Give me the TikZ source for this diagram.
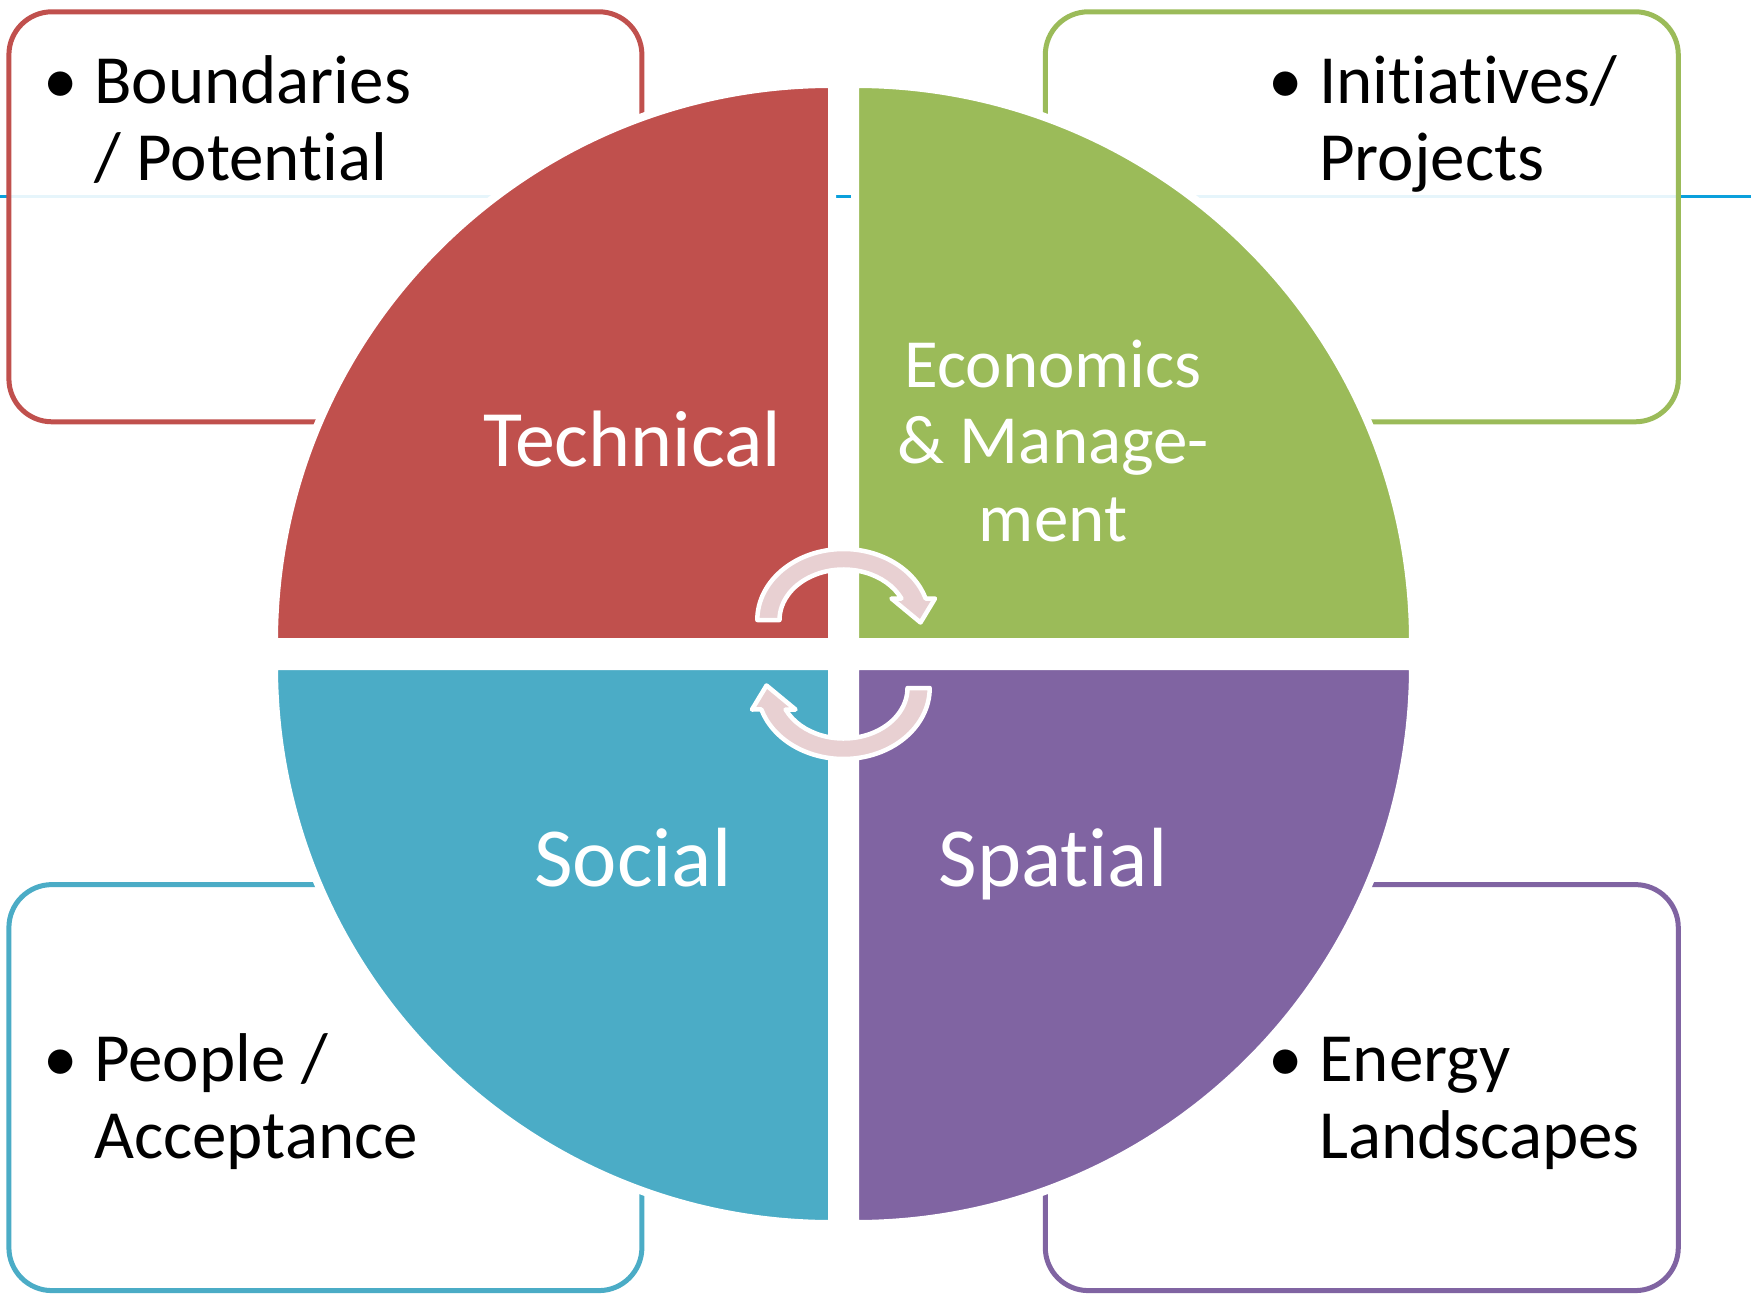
\documentclass[tikz,border=0pt]{standalone}
\usepackage{fontspec}
\setmainfont{Carlito}[Ligatures={NoCommon,NoContextual}]
\definecolor{cRed}{HTML}{C0504D}
\definecolor{cGreen}{HTML}{9BBB59}
\definecolor{cBlue}{HTML}{4BACC6}
\definecolor{cPurple}{HTML}{8064A2}
\definecolor{lineBlue}{RGB}{10,160,220}
\definecolor{arrowPink}{RGB}{232,208,210}
\begin{document}
\begin{tikzpicture}[x=1pt,y=-1pt,
  box/.style={draw=#1, line width=5pt, rounded corners=43pt, fill=white, fill opacity=0.9, draw opacity=1, minimum width=633pt, inner sep=0pt},
  quad/.style={fill=#1, draw=white, line width=8pt, line join=miter},
  boxtext/.style={font=\fontsize{69}{77}\selectfont, text=black, inner sep=0pt},
  qlabel/.style={font=\fontsize{80}{96}\selectfont, text=white, anchor=base, inner sep=0pt},
  cyc/.style={fill=arrowPink, draw=white, line width=4.5pt, line join=round}]
\useasboundingbox (0,0) rectangle (1762,1297);
% background guide line
\coordinate (lineL) at (0,197);
\coordinate (lineR) at (1751,197);
\draw[lineBlue, line width=3pt] (lineL) -- (lineR);
% boxes
\node[box=cRed, minimum height=410pt] (boxTL) at (325.4,216.8) {};
\node[box=cGreen, minimum height=410pt] (boxTR) at (1361.8,216.8) {};
\node[box=cBlue, minimum height=406pt] (boxBL) at (325.4,1087.6) {};
\node[box=cPurple, minimum height=406pt] (boxBR) at (1361.8,1087.6) {};
% quadrants
\path[quad=cRed] (832,642) -- (274,642) arc[start angle=180, end angle=270, radius=558] -- cycle;
\path[quad=cGreen] (855,642) -- (855,84) arc[start angle=270, end angle=360, radius=558] -- cycle;
\path[quad=cBlue] (832,666) -- (274,666) arc[start angle=180, end angle=90, radius=558] -- cycle;
\path[quad=cPurple] (855,666) -- (1413,666) arc[start angle=0, end angle=90, radius=558] -- cycle;
% quadrant labels
\node[qlabel] (lTech) at (632,466) {Technical};
\node[qlabel, font=\fontsize{69}{77}\selectfont] (lEcon) at (1053,387) {\begin{tabular}[t]{@{}c@{}}Economics\\ \& Manage-\\ ment\end{tabular}};
\node[qlabel, font=\fontsize{84}{96}\selectfont] (lSoc) at (633,886) {Social};
\node[qlabel, font=\fontsize{84}{96}\selectfont] (lSpat) at (1053,886) {Spatial};
% box texts
\node[boxtext, anchor=base west] (tTL) at (94,104) {\begin{tabular}[t]{@{}l@{}}\llap{\makebox[51pt][l]{•}}Boundaries\\ / Potential\end{tabular}};
\node[boxtext, anchor=base west] (tTR) at (1319,104) {\begin{tabular}[t]{@{}l@{}}\llap{\makebox[51pt][l]{•}}Initiatives/\\ Projects\end{tabular}};
\node[boxtext, anchor=base west] (tBL) at (94,1081) {\begin{tabular}[t]{@{}l@{}}\llap{\makebox[51pt][l]{•}}People /\\ Acceptance\end{tabular}};
\node[boxtext, anchor=base west] (tBR) at (1319,1081) {\begin{tabular}[t]{@{}l@{}}\llap{\makebox[51pt][l]{•}}Energy\\ Landscapes\end{tabular}};
% cycle arrows
\path[cyc] (757.3,620) arc[start angle=180, end angle=342.4, x radius=86.2, y radius=71]
  -- (935,598.5) -- (920.5,622.5) -- (891.5,598.5) -- (901.4,598.5)
  arc[start angle=334.8, end angle=180, x radius=64, y radius=50.5] -- cycle;
\path[cyc] (929.7,688) arc[start angle=0, end angle=162.4, x radius=86.2, y radius=71]
  -- (752,709.5) -- (766.5,685.5) -- (795.5,709.5) -- (785.6,709.5)
  arc[start angle=154.8, end angle=0, x radius=64, y radius=50.5] -- cycle;
\end{tikzpicture}
\end{document}
